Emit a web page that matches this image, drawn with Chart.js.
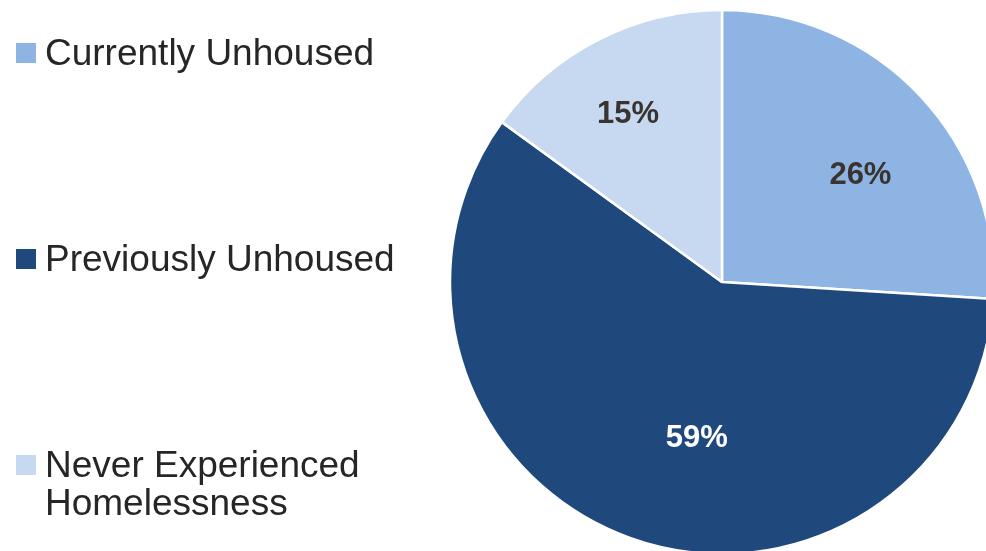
<!DOCTYPE html>
<html>
<head>
<meta charset="utf-8">
<script src="https://cdn.jsdelivr.net/npm/chart.js@4/dist/chart.umd.min.js"></script>
<style>
  html, body { margin: 0; padding: 0; background: #ffffff; overflow: hidden; }
  #wrap { position: relative; width: 986px; height: 551px; }
</style>
</head>
<body>
<div id="wrap"><canvas id="chart" width="986" height="551"></canvas></div>
<script>
// Housing status of respondents (percent)
const categories = ['Currently Unhoused', 'Previously Unhoused', 'Never Experienced Homelessness'];
const legendLines = [['Currently Unhoused'], ['Previously Unhoused'], ['Never Experienced', 'Homelessness']];
const shares = [26, 59, 15];
const sliceColors = ['#8EB4E3', '#1F497D', '#C6D9F1'];
const labelColors = ['#3a3430', '#ffffff', '#3a3430'];

// Percent labels placed inside each slice, relative to its mid angle
const sliceLabels = {
  id: 'sliceLabels',
  afterDatasetsDraw(chart, args, opts) {
    const ctx = chart.ctx;
    const meta = chart.getDatasetMeta(0);
    const values = chart.data.datasets[0].data;
    ctx.save();
    ctx.font = 'bold 31px "Liberation Sans", Arial, sans-serif';
    ctx.textAlign = 'center';
    ctx.textBaseline = 'middle';
    meta.data.forEach((arc, i) => {
      const p = arc.getProps(['x', 'y', 'startAngle', 'endAngle', 'outerRadius'], true);
      const a = (p.startAngle + p.endAngle) / 2 + opts.angleShift[i] * Math.PI / 180;
      const r = p.outerRadius * opts.radiusFactor[i];
      ctx.fillStyle = labelColors[i];
      ctx.fillText(values[i] + '%', p.x + Math.cos(a) * r, p.y + Math.sin(a) * r + 1);
    });
    ctx.restore();
  }
};

// Vertical legend on the left side of the canvas
const sideLegend = {
  id: 'sideLegend',
  afterDraw(chart, args, opts) {
    const ctx = chart.ctx;
    ctx.save();
    ctx.font = '37px "Liberation Sans", Arial, sans-serif';
    ctx.textBaseline = 'alphabetic';
    ctx.textAlign = 'left';
    categories.forEach((c, i) => {
      const base = opts.baselines[i];
      ctx.fillStyle = sliceColors[i];
      ctx.fillRect(opts.boxX, base - 22, opts.boxSize, opts.boxSize);
      ctx.fillStyle = '#262626';
      legendLines[i].forEach((line, j) => {
        ctx.fillText(line, opts.textX, base + j * opts.lineHeight);
      });
    });
    ctx.restore();
  }
};

new Chart(document.getElementById('chart'), {
  type: 'pie',
  data: {
    labels: categories,
    datasets: [{
      data: shares,
      backgroundColor: sliceColors,
      borderColor: '#ffffff',
      borderWidth: 2.5,
      clip: false
    }]
  },
  options: {
    responsive: false,
    animation: false,
    radius: 272,
    layout: { padding: { left: 458, top: 13, right: 0, bottom: 0 } },
    plugins: {
      legend: { display: false },
      tooltip: { enabled: false },
      sliceLabels: { radiusFactor: [0.644, 0.578, 0.71], angleShift: [5.4, -10.6, -2.1] },
      sideLegend: { baselines: [65, 271, 477], lineHeight: 38, boxX: 16, boxSize: 20, textX: 45 }
    }
  },
  plugins: [sliceLabels, sideLegend]
});
</script>
</body>
</html>
